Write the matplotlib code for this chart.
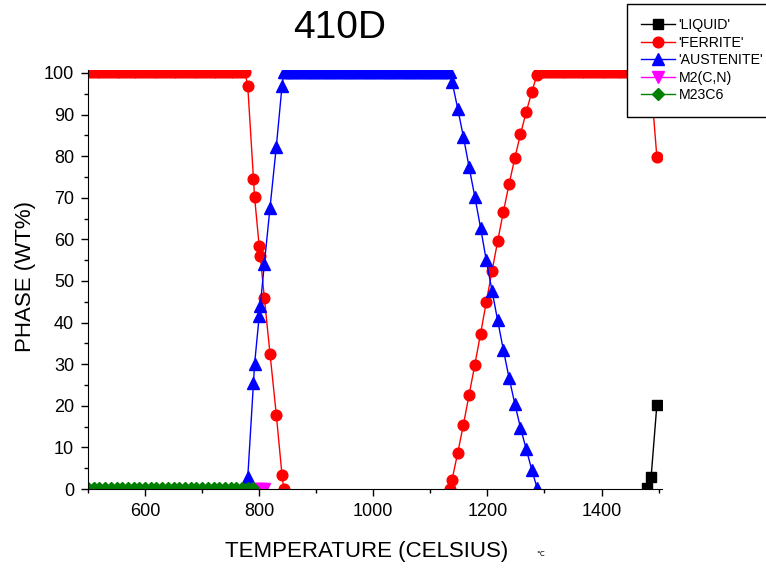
"""Phase fraction vs temperature for 410D (Thermo-Calc style step plot)."""

import numpy as np
import matplotlib

matplotlib.use("Agg")
import matplotlib.pyplot as plt
from matplotlib.ticker import MultipleLocator

plt.rcParams["font.family"] = ["Liberation Sans", "DejaVu Sans"]

# --- data (temperature in C, phase in wt%) ---
ferrite_t = [500, 505, 510, 515, 520, 525, 530, 535, 540, 545,
             550, 555, 560, 565, 570, 575, 580, 585, 590, 595,
             600, 605, 610, 615, 620, 625, 630, 635, 640, 645,
             650, 655, 660, 665, 670, 675, 680, 685, 690, 695,
             700, 705, 710, 715, 720, 725, 730, 735, 740, 745,
             750, 755, 760, 765, 770, 775,
             780, 790, 792, 800, 802, 809, 819, 830, 840, 843,
             np.nan,
             1135, 1138, 1148, 1158, 1168, 1178, 1188, 1198, 1208, 1218,
             1228, 1238, 1248, 1258, 1268, 1278, 1287,
             1290, 1295, 1300, 1305, 1310, 1315, 1320, 1325, 1330, 1335,
             1340, 1345, 1350, 1355, 1360, 1365, 1370, 1375, 1380, 1385,
             1390, 1395, 1400, 1405, 1410, 1415, 1420, 1425, 1430, 1435,
             1440, 1445, 1450, 1455, 1460, 1465, 1470, 1475, 1480,
             1487, 1497]
ferrite_v = [100.3, 100.3, 100.3, 100.3, 100.3, 100.3, 100.3, 100.3, 100.3, 100.3,
             100.3, 100.3, 100.3, 100.3, 100.3, 100.3, 100.3, 100.3, 100.3, 100.3,
             100.3, 100.3, 100.3, 100.3, 100.3, 100.3, 100.3, 100.3, 100.3, 100.3,
             100.3, 100.3, 100.3, 100.3, 100.3, 100.3, 100.3, 100.3, 100.3, 100.3,
             100.3, 100.3, 100.3, 100.3, 100.3, 100.3, 100.3, 100.3, 100.3, 100.3,
             100.3, 100.3, 100.3, 100.3, 100.3, 100.3,
             96.8, 74.6, 70.1, 58.4, 55.9, 46.0, 32.5, 17.9, 3.4, 0.1,
             np.nan,
             0.1, 2.2, 8.7, 15.5, 22.7, 29.9, 37.3, 44.9, 52.3, 59.6,
             66.6, 73.3, 79.5, 85.3, 90.6, 95.5, 99.6,
             100.3, 100.3, 100.3, 100.3, 100.3, 100.3, 100.3, 100.3, 100.3, 100.3,
             100.3, 100.3, 100.3, 100.3, 100.3, 100.3, 100.3, 100.3, 100.3, 100.3,
             100.3, 100.3, 100.3, 100.3, 100.3, 100.3, 100.3, 100.3, 100.3, 100.3,
             100.3, 100.3, 100.3, 100.3, 100.3, 100.3, 100.3, 100.3, 100.2,
             96.9, 79.8]

austenite_t = [780, 790, 792, 800, 802, 809, 819, 830, 840, 843,
               845, 850, 855, 860, 865, 870, 875, 880, 885, 890,
               895, 900, 905, 910, 915, 920, 925, 930, 935, 940,
               945, 950, 955, 960, 965, 970, 975, 980, 985, 990,
               995, 1000, 1005, 1010, 1015, 1020, 1025, 1030, 1035, 1040,
               1045, 1050, 1055, 1060, 1065, 1070, 1075, 1080, 1085, 1090,
               1095, 1100, 1105, 1110, 1115, 1120, 1125, 1130, 1135,
               1138, 1148, 1158, 1168, 1178, 1188, 1198, 1208, 1218, 1228,
               1238, 1248, 1258, 1268, 1278, 1287]
austenite_v = [2.8, 25.5, 30.1, 41.5, 44.1, 54.0, 67.6, 82.2, 96.8, 100.2,
               100.3, 100.3, 100.3, 100.3, 100.3, 100.3, 100.3, 100.3, 100.3, 100.3,
               100.3, 100.3, 100.3, 100.3, 100.3, 100.3, 100.3, 100.3, 100.3, 100.3,
               100.3, 100.3, 100.3, 100.3, 100.3, 100.3, 100.3, 100.3, 100.3, 100.3,
               100.3, 100.3, 100.3, 100.3, 100.3, 100.3, 100.3, 100.3, 100.3, 100.3,
               100.3, 100.3, 100.3, 100.3, 100.3, 100.3, 100.3, 100.3, 100.3, 100.3,
               100.3, 100.3, 100.3, 100.3, 100.3, 100.3, 100.3, 100.3, 100.2,
               97.9, 91.4, 84.6, 77.3, 70.2, 62.8, 55.0, 47.7, 40.5, 33.4,
               26.7, 20.5, 14.7, 9.6, 4.5, 0.3]

liquid_t = [1480, 1487, 1497]
liquid_v = [0.2, 3.0, 20.2]

m2cn_t = [796, 800, 804, 809]
m2cn_v = [0.0, 0.0, 0.0, 0.0]

m23c6_t = [500, 510, 520, 530, 540, 550, 560, 570, 580, 590,
           600, 610, 620, 630, 640, 650, 660, 670, 680, 690,
           700, 710, 720, 730, 740, 750, 760, 770, 780, 790]
m23c6_v = [0.3, 0.3, 0.3, 0.3, 0.3, 0.3, 0.3, 0.3, 0.3, 0.3,
           0.3, 0.3, 0.3, 0.3, 0.3, 0.3, 0.3, 0.3, 0.3, 0.3,
           0.3, 0.3, 0.3, 0.3, 0.3, 0.3, 0.3, 0.3, 0.3, 0.2]

W, H = 766, 569
fig = plt.figure(figsize=(W / 100, H / 100), dpi=100)
ax = fig.add_axes([88 / W, 1 - 489 / H, (662 - 88) / W, (489 - 70) / H])

ax.plot(liquid_t, liquid_v, color="black", lw=1, marker="s", ms=6.5,
        label="'LIQUID'")
ax.plot(ferrite_t, ferrite_v, color="red", lw=1, marker="o", ms=7.7,
        label="'FERRITE'")
ax.plot(austenite_t, austenite_v, color="blue", lw=1, marker="^", ms=8.5,
        label="'AUSTENITE'")
ax.plot(m2cn_t, m2cn_v, color="magenta", lw=1, marker="v", ms=8.5,
        label="M2(C,N)")
ax.plot(m23c6_t, m23c6_v, color="green", lw=1, marker="D", ms=6.5,
        label="M23C6")

ax.set_xlim(500, 1506)
ax.set_ylim(0, 100.7)
ax.xaxis.set_major_locator(MultipleLocator(200))
ax.xaxis.set_minor_locator(MultipleLocator(100))
ax.yaxis.set_major_locator(MultipleLocator(10))
ax.yaxis.set_minor_locator(MultipleLocator(5))
ax.tick_params(which="major", direction="out", length=5, width=1,
               labelsize=13, pad=5)
ax.tick_params(which="minor", direction="out", length=3, width=1)
for side in ("top", "right"):
    ax.spines[side].set_visible(False)

fig.text(340 / W, 1 - 28 / H, "410D", fontsize=28, ha="center", va="center")
fig.text(367 / W, 1 - 552 / H, "TEMPERATURE (CELSIUS)", fontsize=16,
         ha="center", va="center")
fig.text(540 / W, 1 - 554 / H, "\u2103", fontsize=5, ha="center", va="center")
fig.text(25 / W, 1 - 277 / H, "PHASE (WT%)", fontsize=16, rotation=90,
         ha="center", va="center")

leg = fig.legend(loc="upper left", bbox_to_anchor=(627 / W, 1 - 4 / H),
                 fontsize=10.2, frameon=True, fancybox=False, framealpha=1,
                 edgecolor="black", handlelength=2.4, handletextpad=0.25,
                 labelspacing=0.25, borderpad=1.0, borderaxespad=0)
leg.get_frame().set_linewidth(1)

fig.savefig("out.png", dpi=100)
